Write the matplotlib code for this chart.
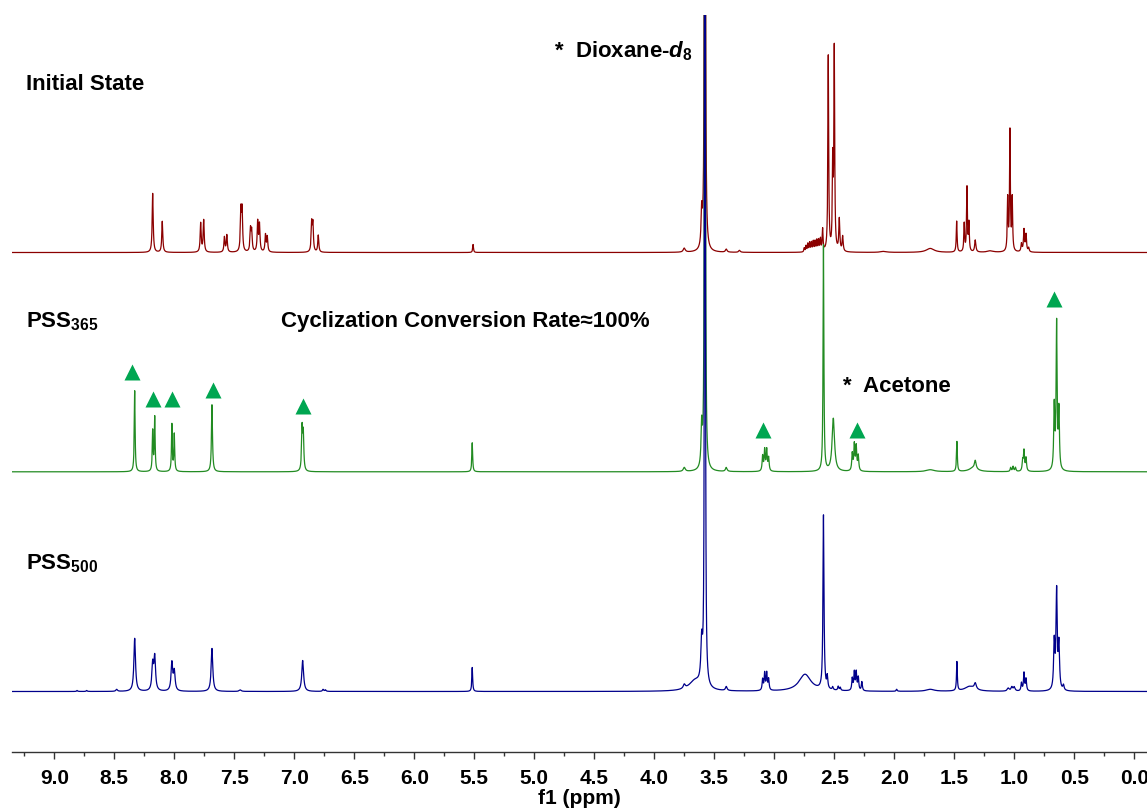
import numpy as np
import matplotlib
matplotlib.use("Agg")
import matplotlib.pyplot as plt

plt.rcParams['font.family'] = ['Liberation Sans', 'DejaVu Sans']
plt.rcParams['font.weight'] = 'bold'
plt.rcParams['mathtext.fontset'] = 'custom'
plt.rcParams['mathtext.rm'] = 'Liberation Sans:bold'
plt.rcParams['mathtext.it'] = 'Liberation Sans:bold:italic'
plt.rcParams['mathtext.bf'] = 'Liberation Sans:bold'

# peak lists: shift (ppm), height, half width (ppm)
red_ppm = [8.18, 8.10, 7.78, 7.755, 7.582, 7.562, 7.445, 7.435, 7.365, 7.355,
           7.305, 7.29, 7.24, 7.225, 6.855, 6.845, 6.80, 5.51, 3.75, 3.605,
           3.578, 3.40, 3.29, 2.75, 2.735, 2.72, 2.705, 2.69, 2.675, 2.66,
           2.645, 2.63, 2.615, 2.597, 2.55, 2.513, 2.50, 2.458, 2.43, 2.09,
           1.70, 1.48, 1.417, 1.394, 1.378, 1.325, 1.20, 1.055, 1.036, 1.017,
           0.94, 0.919, 0.902, 0.88]
red_int = [59, 31, 29, 32, 15, 17, 40, 40, 22, 20,
           30, 27, 17, 15, 28, 27, 17, 8, 4, 35,
           3000, 3, 2, 4, 6, 8, 9, 9, 10, 10,
           11, 11, 12, 22, 195, 85, 200, 32, 15, 1,
           4, 31, 28, 64, 28, 12, 1.5, 52, 120, 52,
           8, 22, 17, 4]
red_hw = [.005, .005, .005, .005, .005, .005, .005, .005, .005, .005,
          .005, .005, .005, .005, .005, .005, .005, .004, .01, .006,
          .002, .008, .008, .004, .004, .004, .004, .004, .004, .004,
          .004, .004, .004, .004, .004, .004, .004, .005, .005, .03,
          .04, .004, .004, .004, .004, .006, .03, .004, .004, .004,
          .005, .005, .005, .005]

green_ppm = [8.33, 8.18, 8.163, 8.02, 8.00, 7.686, 6.935, 6.925, 5.517, 3.75,
             3.605, 3.578, 3.40, 3.097, 3.080, 3.063, 3.047, 2.59, 2.508, 2.35,
             2.333, 2.317, 2.30, 1.70, 1.478, 1.34, 1.325, 1.03, 1.01, 0.99,
             0.93, 0.919, 0.902, 0.667, 0.647, 0.628]
green_int = [81, 40, 54, 47, 37, 67, 42, 36, 29, 4,
             40, 3000, 4, 15, 21, 21, 13, 226, 53, 17,
             26, 24, 15, 2, 30, 4, 8, 4, 5, 4,
             10, 20, 13, 63, 146, 58]
green_hw = [.004, .004, .004, .004, .004, .005, .005, .005, .004, .01,
            .006, .002, .008, .005, .005, .005, .005, .004, .012, .005,
            .005, .005, .005, .04, .004, .04, .008, .005, .005, .005,
            .005, .005, .005, .005, .005, .005]

blue_ppm = [8.81, 8.73, 8.48, 8.33, 8.18, 8.163, 8.02, 8.00, 7.686, 7.45,
            6.93, 6.76, 6.74, 5.517, 3.75, 3.66, 3.605, 3.578, 3.40, 3.097,
            3.080, 3.063, 3.047, 2.744, 2.59, 2.558, 2.513, 2.467, 2.45, 2.35,
            2.333, 2.317, 2.30, 2.27, 1.98, 1.70, 1.478, 1.37, 1.325, 1.05,
            1.02, 1.00, 0.94, 0.919, 0.902, 0.667, 0.647, 0.628, 0.59]
blue_int = [1, 1, 2, 53, 26, 33, 28, 19, 43, 1.5,
            31, 2, 1.5, 24, 4, 10, 40, 3000, 4, 11,
            17, 17, 11, 17, 174, 12, 3, 4, 3, 12,
            18, 18, 13, 9, 2, 2, 29, 5, 6, 3,
            4, 4, 8, 18, 12, 47, 98, 44, 5]
blue_hw = [.005, .005, .008, .008, .008, .008, .008, .008, .008, .01,
           .009, .006, .006, .004, .01, .06, .008, .002, .008, .005,
           .005, .005, .005, .06, .005, .005, .005, .005, .005, .005,
           .005, .005, .005, .005, .005, .04, .004, .05, .01, .01,
           .008, .008, .005, .005, .005, .006, .006, .006, .006]

# cyclization markers on the PSS365 trace: shift, height above its baseline
tri_ppm = [8.35, 8.18, 8.02, 7.68, 6.93, 3.09, 2.31, 0.667]
tri_h = [100, 73, 73, 82, 66, 42, 42, 173]

offsets = {'red': 499.5, 'green': 280.2, 'blue': 60.5}


def spectrum(x, ppm, inten, hw):
    y = np.zeros_like(x)
    for p, h, w in zip(ppm, inten, hw):
        y += h * w**2 / ((x - p)**2 + w**2)
    return y


x = np.linspace(-0.2, 9.5, 19401)

fig = plt.figure(figsize=(11.47, 8.11), dpi=100)
ax = fig.add_axes([12 / 1147, 59 / 811, 1 - 12 / 1147, (752 - 15) / 811])

ax.plot(x, spectrum(x, red_ppm, red_int, red_hw) + offsets['red'], color='#8B0000', lw=0.9)
ax.plot(x, spectrum(x, green_ppm, green_int, green_hw) + offsets['green'], color='#228B22', lw=0.9)
ax.plot(x, spectrum(x, blue_ppm, blue_int, blue_hw) + offsets['blue'], color='#00008B', lw=0.9)
ax.plot(tri_ppm, np.array(tri_h) + offsets['green'], ls='none', marker='^',
        ms=11, color='#00A651', mec='none')

ax.set_xlim(9.3525, -0.106)
ax.set_ylim(0, 737)
for s in ['left', 'right', 'top']:
    ax.spines[s].set_visible(False)
ax.spines['bottom'].set_linewidth(1.0)
ax.spines['bottom'].set_color('#333333')
ax.set_yticks([])
ax.set_xticks(np.arange(0, 9.01, 0.5))
ax.set_xticks(np.arange(0.25, 9.3, 0.5), minor=True)
ax.set_xticklabels([f"{v:.1f}" for v in np.arange(0, 9.01, 0.5)], fontsize=15, fontweight='bold')
ax.tick_params(axis='x', which='major', length=5, width=1, pad=7, color='#333333')
ax.tick_params(axis='x', which='minor', length=3, width=1, color='#333333')
ax.set_xlabel('f1 (ppm)', fontsize=15, fontweight='bold', labelpad=1)

def put(xp, yp, s):
    fig.text(xp / 1147, 1 - yp / 811, s, fontsize=16, fontweight='bold', va='baseline', ha='left')

put(26, 90, 'Initial State')
put(26, 327, r'PSS$_{365}$')
put(26, 569, r'PSS$_{500}$')
put(281, 327, 'Cyclization Conversion Rate≈100%')
put(554, 57, r'*  Dioxane-$d_{8}$')
put(843, 392, '*  Acetone')

fig.savefig('out.png', dpi=100)
